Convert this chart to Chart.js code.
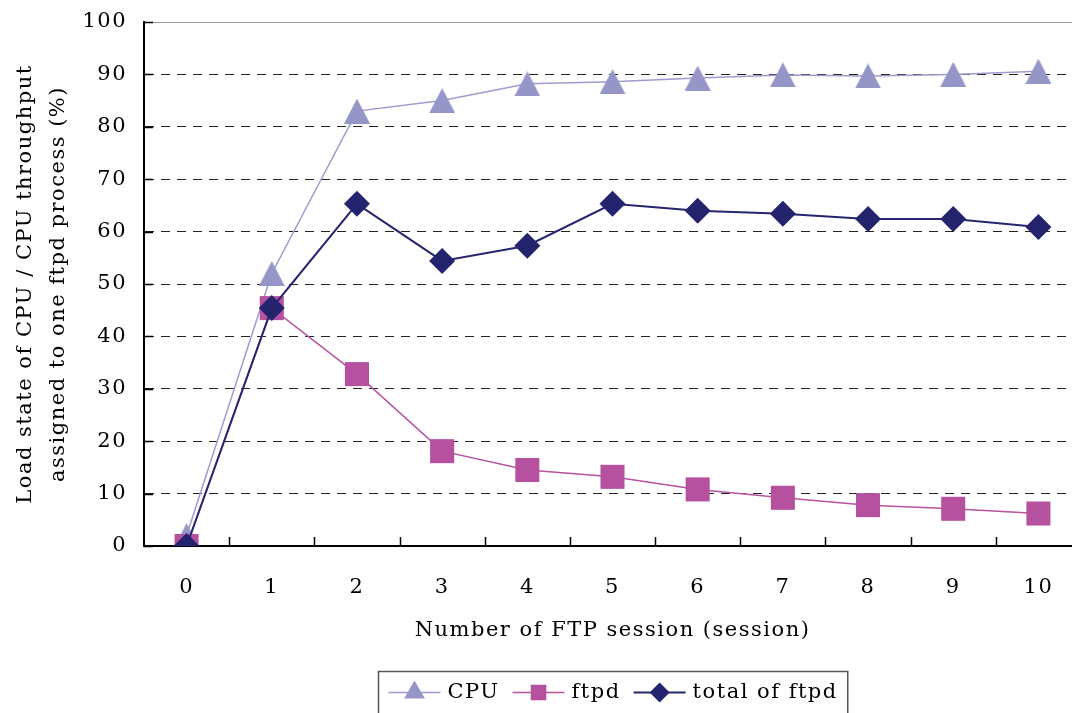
<!DOCTYPE html>
<html>
<head>
<meta charset="utf-8">
<script src="https://cdn.jsdelivr.net/npm/chart.js"></script>
<style>
  html, body { margin: 0; padding: 0; background: #fff; overflow: hidden; }
  #ftpChart { display: block; }
</style>
</head>
<body>
<canvas id="ftpChart" width="1082" height="713"></canvas>
<script>
// Load of CPU vs. number of FTP sessions
const sessions = ['0', '1', '2', '3', '4', '5', '6', '7', '8', '9', '10'];
const cpuLoad = [2, 52, 83, 85, 88.2, 88.6, 89.3, 89.9, 89.7, 90, 90.6];
const ftpdLoad = [0, 45.4, 32.8, 18.1, 14.5, 13.2, 10.8, 9.2, 7.8, 7.1, 6.2];
const totalFtpd = [0, 45.4, 65.3, 54.4, 57.3, 65.3, 64.0, 63.4, 62.4, 62.4, 60.9];
const yTitle = ['Load state of CPU / CPU throughput', 'assigned to one ftpd process (%)'];
const xTitle = 'Number of FTP session (session)';

const FONT = '"DejaVu Serif", serif';
const SPACING = '1.5px';

// triangle centred on its bounding box (chart.js centres on the circumcentre)
function makeTriangle(w, h, color) {
    const c = document.createElement('canvas');
    c.width = w;
    c.height = h;
    const g = c.getContext('2d');
    g.fillStyle = color;
    g.beginPath();
    g.moveTo(w / 2, 0);
    g.lineTo(w, h);
    g.lineTo(0, h);
    g.closePath();
    g.fill();
    return c;
}

// wider letter spacing to get closer to the Century-like face of the original
const spacing = {
    id: 'spacing',
    beforeLayout(chart) { chart.ctx.letterSpacing = SPACING; },
    beforeDraw(chart) { chart.ctx.letterSpacing = SPACING; }
};

// short tick marks pointing into the plot
const innerTicks = {
    id: 'innerTicks',
    beforeDatasetsDraw(chart) {
        const { ctx, chartArea, scales: { x, y } } = chart;
        const half = (x.getPixelForValue(1) - x.getPixelForValue(0)) / 2;
        ctx.save();
        ctx.strokeStyle = '#000';
        ctx.lineWidth = 1.5;
        ctx.beginPath();
        sessions.forEach((s, i) => {
            const px = Math.round(x.getPixelForValue(i) + half) + 0.5;
            ctx.moveTo(px, chartArea.bottom);
            ctx.lineTo(px, chartArea.bottom - 9);
        });
        y.ticks.forEach(t => {
            const py = Math.round(y.getPixelForValue(t.value)) + 0.5;
            ctx.moveTo(chartArea.left, py);
            ctx.lineTo(chartArea.left + 9, py);
        });
        ctx.stroke();
        ctx.restore();
    }
};

// boxed legend with line + marker samples
const boxLegend = {
    id: 'boxLegend',
    afterDraw(chart) {
        const { ctx, chartArea } = chart;
        const lineLen = 52, gapText = 7, gapItem = 13, pad = 10;
        ctx.save();
        ctx.letterSpacing = SPACING;
        ctx.font = '21px ' + FONT;
        const items = chart.data.datasets.map(ds => ({ ds, w: ctx.measureText(ds.label).width }));
        const total = items.reduce((s, it) => s + lineLen + gapText + it.w, 0)
            + gapItem * (items.length - 1) + pad * 2;
        const left = Math.round((chartArea.left + chartArea.right) / 2 - total / 2) + 0.5;
        const top = chart.height - 41.5;
        const cy = top + 21;
        ctx.strokeStyle = '#555';
        ctx.lineWidth = 1.5;
        ctx.strokeRect(left, top, total, 60);
        let cx = left + pad;
        items.forEach(({ ds, w }) => {
            ctx.strokeStyle = ds.borderColor;
            ctx.lineWidth = ds.borderWidth;
            ctx.beginPath();
            ctx.moveTo(cx, cy);
            ctx.lineTo(cx + lineLen, cy);
            ctx.stroke();
            ctx.fillStyle = ds.legendColor;
            Chart.helpers.drawPoint(ctx, { pointStyle: ds.legendStyle, radius: ds.legendRadius, borderWidth: 0, rotation: 0 },
                cx + lineLen / 2, cy);
            ctx.fillStyle = '#000';
            ctx.textBaseline = 'middle';
            ctx.textAlign = 'left';
            ctx.fillText(ds.label, cx + lineLen + gapText, cy);
            cx += lineLen + gapText + w + gapItem;
        });
        ctx.restore();
    }
};

new Chart(document.getElementById('ftpChart'), {
    type: 'line',
    data: {
        labels: sessions,
        datasets: [
            {
                label: 'CPU',
                data: cpuLoad,
                borderColor: '#9C9CD0',
                borderWidth: 1.5,
                pointStyle: makeTriangle(26, 25, '#9595C8'),
                legendStyle: 'triangle',
                legendRadius: 12,
                legendColor: '#9595C8',
                pointRadius: 13,
                order: 3
            },
            {
                label: 'ftpd',
                data: ftpdLoad,
                borderColor: '#B8529F',
                borderWidth: 1.5,
                pointStyle: 'rect',
                pointRadius: 17,
                legendStyle: 'rect',
                legendRadius: 11,
                legendColor: '#B5519F',
                pointBackgroundColor: '#B5519F',
                pointBorderWidth: 0,
                order: 2
            },
            {
                label: 'total of ftpd',
                data: totalFtpd,
                borderColor: '#262670',
                borderWidth: 2,
                pointStyle: 'rectRot',
                pointRadius: 13,
                legendStyle: 'rectRot',
                legendRadius: 10,
                legendColor: '#24246E',
                pointBackgroundColor: '#24246E',
                pointBorderWidth: 0,
                order: 1
            }
        ]
    },
    options: {
        responsive: false,
        animation: false,
        layout: { autoPadding: false, padding: { top: 22, right: 1, left: 0, bottom: 0 } },
        plugins: {
            legend: { display: false },
            tooltip: { enabled: false }
        },
        scales: {
            x: {
                type: 'category',
                offset: true,
                grid: { display: false },
                border: { color: '#000', width: 2 },
                ticks: { color: '#000', font: { family: FONT, size: 21 }, padding: 21 },
                title: {
                    display: true,
                    text: xTitle,
                    color: '#000',
                    font: { family: FONT, size: 21 },
                    padding: { top: 0, bottom: 70 }
                },
                afterFit: (scale) => { scale.height = 167; }
            },
            y: {
                min: 0,
                max: 100,
                ticks: { stepSize: 10, color: '#000', font: { family: FONT, size: 21 }, padding: 17 },
                grid: {
                    drawTicks: false,
                    lineWidth: 1,
                    color: (c) => (c.tick && c.tick.value === 100 ? '#999' : '#222')
                },
                border: {
                    color: '#000',
                    width: 2,
                    dash: (c) => (c.tick && c.tick.value === 100 ? [] : [9, 7])
                },
                title: {
                    display: true,
                    text: yTitle,
                    color: '#000',
                    font: { family: FONT, size: 21, lineHeight: 1.57 },
                    padding: { top: 9, bottom: 0 }
                },
                afterFit: (scale) => {
                    scale.width = 144;
                    scale.paddingTop = 0;
                    scale.paddingBottom = 0;
                }
            }
        }
    },
    plugins: [spacing, innerTicks, boxLegend]
});
</script>
</body>
</html>
